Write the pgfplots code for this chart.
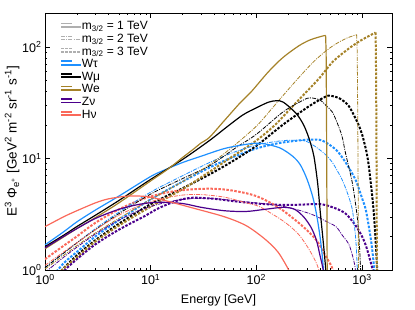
\documentclass[border=0pt]{standalone}
\usepackage{fontspec}
\setmainfont{Liberation Sans}
\usepackage{pgfplots}
\pgfplotsset{compat=1.18}
\definecolor{cwt}{RGB}{30,144,255}
\definecolor{cwe}{RGB}{165,130,40}
\definecolor{czn}{RGB}{75,0,140}
\definecolor{chn}{RGB}{250,105,90}
\definecolor{cleg}{RGB}{175,175,175}
\tikzset{
 mA/.style={line width=1.2pt},
 mB/.style={line width=0.8pt, dash pattern=on 4pt off 1.2pt on 1pt off 1.2pt},
 mC/.style={line width=2pt, dash pattern=on 2.5pt off 1.5pt},
}
\begin{document}
\begin{tikzpicture}
\useasboundingbox (-45pt,-40pt) rectangle (370pt,270pt);
\begin{axis}[
  at={(0pt,0pt)}, anchor=south west,
  scale only axis, width=347pt, height=257pt,
  xmode=log, ymode=log, log basis x=10, log basis y=10,
  xmin=1, xmax=1920, ymin=1, ymax=202,
  xtick={1,10,100,1000},
  xticklabels={10\textsuperscript{0},10\textsuperscript{1},10\textsuperscript{2},10\textsuperscript{3}},
  ytick={1,10,100},
  yticklabels={10\textsuperscript{0},10\textsuperscript{1},10\textsuperscript{2}},
  minor xtick={2,3,4,5,6,7,8,9,20,30,40,50,60,70,80,90,200,300,400,500,600,700,800,900},
  minor ytick={2,3,4,5,6,7,8,9,20,30,40,50,60,70,80,90,200},
  tick align=inside, major tick length=5pt, minor tick length=2.5pt,
  tick style={black, line width=0.6pt},
  axis line style={line width=0.8pt},
  tick label style={font=\fontsize{12.5}{15}\selectfont},
  xticklabel style={yshift=-1pt},
  xlabel={Energy [GeV]},
  ylabel={E\textsuperscript{3} Φ\textsubscript{e\textsuperscript{+}} [GeV\textsuperscript{2} m\textsuperscript{-2} sr\textsuperscript{-1} s\textsuperscript{-1}]},
  label style={font=\fontsize{12.5}{15}\selectfont},
  ylabel style={font=\fontsize{13.5}{15}\selectfont},
  xlabel style={at={(axis description cs:0.5,-0.117)}, anchor=center},
  ylabel style={at={(axis description cs:-0.095,0.5)}, anchor=center},
  legend style={draw=none, fill=none, at={(axis description cs:0.043,0.97)}, anchor=north west,
    font=\fontsize{12}{12}\selectfont, row sep=0.6pt, inner sep=0pt,
    nodes={text height=9pt, text depth=3pt, inner sep=0pt, inner xsep=0pt}},
  legend cell align=left,
  legend image code/.code={\draw[#1] (0pt,3.5pt) -- (11pt,3.5pt); \path (0pt,0pt) -- (20pt,0pt);},
  legend entries={m\textsubscript{3/2} = 1 TeV, m\textsubscript{3/2} = 2 TeV, m\textsubscript{3/2} = 3 TeV, Wτ, Wμ, We, Zν, Hν},
]
\addlegendimage{cleg, line width=1.4pt}
\addlegendimage{cleg, line width=1pt, dash pattern=on 4pt off 1.2pt on 1pt off 1.2pt}
\addlegendimage{cleg, line width=1.6pt, dash pattern=on 2.5pt off 1.5pt}
\addlegendimage{cwt, line width=1.8pt}
\addlegendimage{black, line width=1.8pt}
\addlegendimage{cwe, line width=1.8pt}
\addlegendimage{czn, line width=1.8pt}
\addlegendimage{chn, line width=1.8pt}

% ---------- 3 TeV (dashed) ----------
\addplot[forget plot, cwt, mC, smooth, tension=0.5] coordinates {(1.15,0.85)(1.5,1.15)(2,1.45)(3,2.0)(5,2.8)(10,4.3)(20,6.2)(36,8.3)(60,10.3)(100,12.3)(160,13.7)(250,14.5)(330,14.8)(420,14.5)(566,12.0)(700,9.2)(870,6.4)(1000,4.4)(1090,3.4)(1210,1.9)(1260,1.4)(1300,1.04)(1320,0.85)};
\addplot[forget plot, black, mC, smooth, tension=0.5] coordinates {(1.3,0.85)(1.45,1.0)(2,1.35)(3,1.85)(5,2.6)(10,3.9)(20,5.4)(36,7.2)(60,9.5)(100,13)(177,20)(316,29.5)(454,36)(500,36.5)(600,35)(750,29.5)(940,19.5)(1000,16.5)(1090,12)(1150,9)(1210,6.0)(1260,4.2)(1300,3.0)(1350,1.7)(1390,1.0)(1400,0.8)};
\addplot[forget plot, cwe, mC, smooth, tension=0.5] coordinates {(1.3,0.85)(1.45,1.0)(2,1.3)(3,1.8)(5,2.5)(10,3.7)(20,5.3)(36,7.6)(60,10.5)(100,14.5)(150,20)(210,28)(270,36)(390,52)(530,74)(750,97)(950,113)(1150,125)(1340,135)};
\addplot[forget plot, cwe, mC] coordinates {(1340,135)(1352,90)(1364,25)(1375,4)(1382,0.8)};
\addplot[forget plot, czn, mC, smooth, tension=0.5] coordinates {(1.4,0.85)(1.55,1.0)(2,1.25)(3,1.7)(5,2.3)(8.8,3.05)(12,3.6)(18,4.2)(25,4.45)(40,4.35)(60,4.15)(100,3.95)(160,3.85)(250,3.85)(400,3.9)(550,3.6)(700,3.2)(870,2.5)(1000,2.0)(1100,1.6)(1200,1.2)(1280,0.95)(1300,0.85)};
\addplot[forget plot, chn, mC, smooth, tension=0.5] coordinates {(1,1.25)(1.5,1.65)(2,2.0)(3,2.65)(5,3.5)(8.8,4.4)(15,5.0)(25,5.3)(40,5.35)(60,5.15)(100,4.6)(165,3.6)(270,2.5)(370,1.85)(450,1.35)(520,1.05)(545,0.85)};

% ---------- 2 TeV (dash-dot) ----------
\addplot[forget plot, cwt, mB, smooth, tension=0.5] coordinates {(1,1.05)(2,1.75)(3,2.35)(5,3.3)(10,5.0)(20,7.0)(36,9.2)(60,11.3)(100,13.2)(160,14.3)(220,14.6)(300,14.2)(420,11.5)(520,9.3)(650,6.4)(750,4.5)(810,3.45)(850,2.4)(875,1.8)(895,1.2)(905,0.85)};
\addplot[forget plot, black, mB, smooth, tension=0.5] coordinates {(1,1.05)(2,1.75)(3,2.3)(5,3.2)(10,4.8)(20,6.6)(36,8.6)(64,12.5)(100,16.5)(177,26)(255,32)(316,35)(400,33.5)(454,30)(525,26)(605,19)(650,15.5)(700,11)(810,6.0)(900,3.0)(940,1.8)(970,1.0)(985,0.8)};
\addplot[forget plot, cwe, mB, smooth, tension=0.5] coordinates {(1,1.02)(2,1.65)(3,2.15)(5,2.9)(10,4.3)(20,6.2)(36,8.8)(60,12.8)(100,19.5)(140,28)(180,37)(260,55)(354,75)(454,92)(550,105)(700,119)(860,128)(888,129)};
\addplot[forget plot, cwe, mB] coordinates {(888,129)(900,90)(910,25)(920,4)(926,0.8)};
\addplot[forget plot, czn, mB, smooth, tension=0.5] coordinates {(1,0.95)(1.5,1.3)(2,1.6)(3,2.1)(5,2.8)(8,3.45)(12,3.9)(20,4.3)(35,4.4)(60,4.2)(100,4.0)(160,3.8)(250,3.45)(350,3.1)(450,2.75)(566,2.45)(650,2.05)(750,1.7)(820,1.3)(860,1.05)(875,0.85)};
\addplot[forget plot, chn, mB, smooth, tension=0.5] coordinates {(1,1.1)(1.5,1.45)(2,1.75)(3,2.3)(5,3.1)(8,3.8)(12,4.3)(20,4.7)(30,4.75)(50,4.5)(80,4.0)(107,3.7)(165,2.9)(210,2.45)(255,2.05)(300,1.65)(340,1.35)(370,1.15)(390,1.0)(400,0.85)};

% ---------- 1 TeV (solid) ----------
\addplot[forget plot, cwt, mA, smooth, tension=0.5] coordinates {(1,1.68)(1.5,2.2)(2,2.7)(3,3.45)(5,4.6)(10,6.9)(14,8.0)(20,9.2)(31,10.6)(50,12.3)(80,13.4)(110,13.7)(165,12.5)(220,10.5)(260,8.8)(300,6.6)(340,4.6)(370,3.2)(400,2.0)(420,1.35)(435,0.9)};
\addplot[forget plot, black, mA, smooth, tension=0.5] coordinates {(1,1.62)(1.5,2.05)(2,2.45)(3,3.1)(5,4.2)(10,6.5)(20,9.8)(36,14.5)(50,18.5)(74,24.5)(100,28.5)(130,32)(155,33)(180,32)(237,25.5)(280,20)(316,15)(350,10.5)(380,6)(400,3.5)(420,2.2)(440,1.4)(458,0.9)};
\addplot[forget plot, cwe, mA, smooth, tension=0.5] coordinates {(1,1.55)(1.5,1.98)(2,2.35)(3,2.95)(5,4.0)(10,6.3)(15,8.2)(20,10.2)(25,12.0)(30,13.8)(36,15.5)(50,22)(70,31.5)(90,40)(130,60)(177,80)(250,102)(316,115)(380,122)(430,126)(452,127)};
\addplot[forget plot, cwe, mA] coordinates {(452,127)(457,90)(461,25)(465,4)(468,0.8)};
\addplot[forget plot, czn, mA, smooth, tension=0.5] coordinates {(1,1.58)(1.5,2.0)(2,2.35)(3,2.9)(5,3.5)(8,3.9)(12,4.05)(20,3.95)(30,3.65)(50,3.4)(80,3.35)(120,3.5)(180,3.65)(230,3.5)(280,3.0)(330,2.4)(370,1.85)(400,1.35)(425,1.05)(440,0.85)};
\addplot[forget plot, chn, mA, smooth, tension=0.5] coordinates {(1,2.45)(1.5,3.0)(2,3.4)(3,4.0)(4,4.35)(6,4.6)(8,4.6)(10,4.5)(15,4.1)(25,3.6)(50,3.0)(80,2.5)(120,1.9)(160,1.45)(200,1.02)(215,0.85)};
\end{axis}
\end{tikzpicture}
\end{document}
